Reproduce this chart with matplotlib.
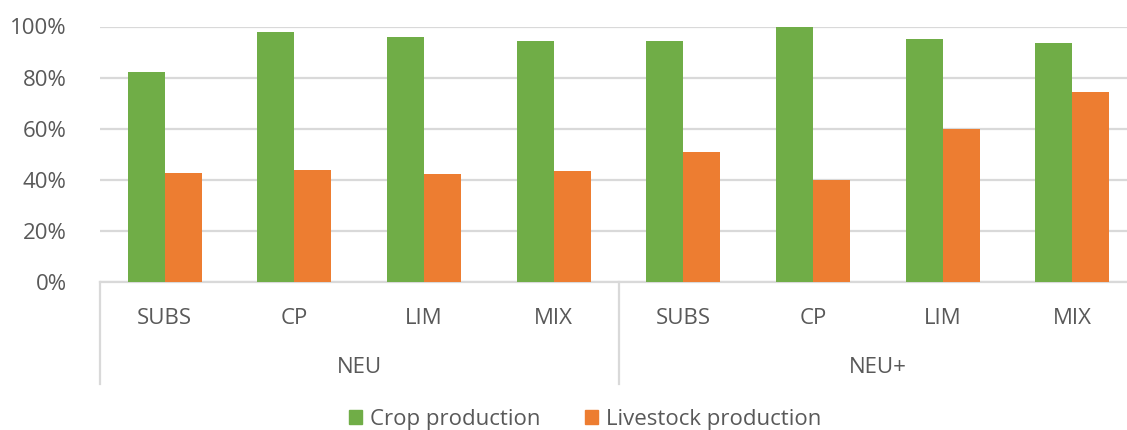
import numpy as np
import matplotlib.pyplot as plt
from matplotlib.patches import Patch
import matplotlib.transforms as mtransforms

plt.rcParams['font.family'] = ['Open Sans', 'DejaVu Sans']

groups = ["NEU", "NEU+"]
systems = ["SUBS", "CP", "LIM", "MIX"]
crop = [82.2, 97.8, 96.0, 94.5, 94.3, 100.0, 95.2, 93.7]
livestock = [42.6, 43.9, 42.2, 43.4, 50.9, 40.1, 59.7, 74.3]

green = "#70AD47"
orange = "#ED7D31"
grid_col = "#D9D9D9"
txt_col = "#595959"

fig = plt.figure(figsize=(11.27, 4.30), dpi=100)
ax = fig.add_axes([100 / 1127, 148 / 430, 1037 / 1127, 255.5 / 430])

x = np.arange(len(crop))
w = 0.285
ax.bar(x - w / 2, np.array(crop) / 100, w, color=green, zorder=3)
ax.bar(x + w / 2, np.array(livestock) / 100, w, color=orange, zorder=3)

ax.set_xlim(-0.5, len(crop) - 0.5)
ax.set_ylim(0, 1)
ax.set_yticks(np.arange(0, 1.01, 0.2))
ax.set_yticklabels(["%d%%" % v for v in range(0, 101, 20)])
ax.yaxis.grid(True, color=grid_col, linewidth=1.6, zorder=0)
for s in ["left", "right", "top"]:
    ax.spines[s].set_visible(False)
ax.spines["bottom"].set_color(grid_col)
ax.spines["bottom"].set_linewidth(1.6)
ax.tick_params(axis="y", length=0, pad=24, labelsize=16, labelcolor=txt_col)
ax.tick_params(axis="x", length=0, pad=19, labelsize=16, labelcolor=txt_col)
ax.set_xticks(x)
ax.set_xticklabels(systems * len(groups))

# group labels and separators below the axis
trans = mtransforms.blended_transform_factory(ax.transData, ax.transAxes)
for i, g in enumerate(groups):
    ax.text(i * 4 + 1.5, -0.335, g, transform=trans, ha="center", va="center",
            fontsize=16, color=txt_col)
for xs in [-0.5, 3.5, 7.5]:
    ax.plot([xs, xs], [0, -0.40], transform=trans, color=grid_col,
            linewidth=1.6, clip_on=False)

handles = [Patch(color=green, label="Crop production"),
           Patch(color=orange, label="Livestock production")]
fig.legend(handles=handles, loc="lower center", bbox_to_anchor=(0.519, -0.046),
           ncol=2, frameon=False, fontsize=16, labelcolor=txt_col,
           handlelength=0.6, handleheight=0.6, handletextpad=0.35, columnspacing=2.0)

plt.savefig("out.png", dpi=100)
